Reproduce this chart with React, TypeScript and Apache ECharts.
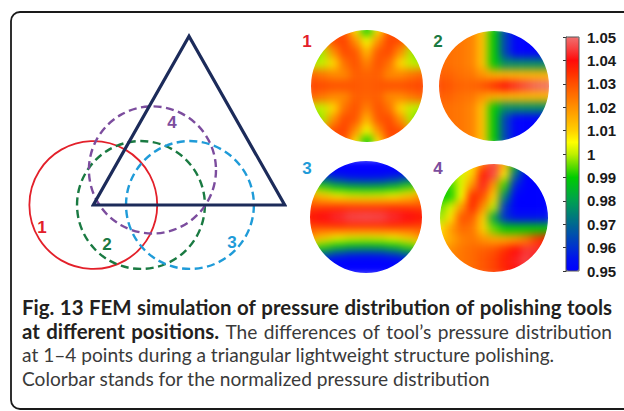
import React, { useEffect, useRef } from "react";
import * as echarts from "echarts";

// ---------- data ----------
const PRESSURE_MIN = 0.95;
const PRESSURE_MAX = 1.05;
const COLORBAR_MIN = 95; // in 0.01 units
const COLORBAR_MAX = 105;

// triangle (side = 10 units) and the four tool circles [cx, cy, r] in the same units
const TRIANGLE = [
  [0, 0],
  [10, 0],
  [5, 8.66],
];
const TOOL_CIRCLES = [
  [0, 0, 3.34],
  [2.49, 0, 3.34],
  [5.05, 0, 3.34],
  [3.09, 1.8, 3.32],
];
const TOOL_LABELS = ["1", "2", "3", "4"];

// normalized pressure maps, rows top -> bottom, columns left -> right
const DISC1 = [
  [1.019, 1.03, 1.032, 1.029, 1.008, 0.99, 1.008, 1.029, 1.032, 1.03, 1.019],
  [1.0, 1.017, 1.03, 1.032, 1.02, 1.004, 1.02, 1.032, 1.03, 1.017, 1.0],
  [0.99, 0.999, 1.02, 1.031, 1.029, 1.014, 1.029, 1.031, 1.02, 0.999, 0.99],
  [1.0, 1.0, 1.009, 1.025, 1.03, 1.022, 1.03, 1.025, 1.009, 1.0, 1.0],
  [1.027, 1.024, 1.021, 1.021, 1.028, 1.027, 1.028, 1.021, 1.021, 1.024, 1.027],
  [1.032, 1.031, 1.03, 1.03, 1.029, 1.028, 1.029, 1.03, 1.03, 1.031, 1.032],
  [1.027, 1.024, 1.021, 1.021, 1.028, 1.027, 1.028, 1.021, 1.021, 1.024, 1.027],
  [1.0, 1.0, 1.009, 1.025, 1.03, 1.022, 1.03, 1.025, 1.009, 1.0, 1.0],
  [0.99, 0.999, 1.02, 1.031, 1.029, 1.014, 1.029, 1.031, 1.02, 0.999, 0.99],
  [1.0, 1.017, 1.03, 1.032, 1.02, 1.004, 1.02, 1.032, 1.03, 1.017, 1.0],
  [1.019, 1.03, 1.032, 1.029, 1.008, 0.99, 1.008, 1.029, 1.032, 1.03, 1.019],
];
const DISC2 = [
  [1.026, 1.025, 1.024, 1.022, 1.012, 0.99, 0.964, 0.951, 0.95, 0.95, 0.95],
  [1.026, 1.025, 1.024, 1.022, 1.012, 0.99, 0.964, 0.951, 0.95, 0.95, 0.95],
  [1.026, 1.025, 1.024, 1.022, 1.012, 0.99, 0.964, 0.951, 0.95, 0.95, 0.95],
  [1.026, 1.025, 1.024, 1.022, 1.012, 0.99, 0.977, 0.977, 0.977, 0.977, 0.977],
  [1.028, 1.027, 1.025, 1.024, 1.019, 1.015, 1.014, 1.014, 1.014, 1.014, 1.014],
  [1.031, 1.029, 1.027, 1.027, 1.03, 1.035, 1.04, 1.043, 1.046, 1.049, 1.05],
  [1.028, 1.027, 1.025, 1.024, 1.019, 1.015, 1.014, 1.014, 1.014, 1.014, 1.014],
  [1.026, 1.025, 1.024, 1.022, 1.012, 0.99, 0.977, 0.977, 0.977, 0.977, 0.977],
  [1.026, 1.025, 1.024, 1.022, 1.012, 0.99, 0.964, 0.951, 0.95, 0.95, 0.95],
  [1.026, 1.025, 1.024, 1.022, 1.012, 0.99, 0.964, 0.951, 0.95, 0.95, 0.95],
  [1.026, 1.025, 1.024, 1.022, 1.012, 0.99, 0.964, 0.951, 0.95, 0.95, 0.95],
];
const DISC3 = [
  [0.95, 0.95, 0.95, 0.95, 0.95, 0.95, 0.95, 0.95, 0.95],
  [0.95, 0.95, 0.95, 0.95, 0.95, 0.95, 0.95, 0.95, 0.95],
  [0.956, 0.951, 0.95, 0.95, 0.95, 0.95, 0.95, 0.951, 0.956],
  [0.974, 0.964, 0.957, 0.954, 0.953, 0.954, 0.957, 0.964, 0.974],
  [0.99, 0.983, 0.976, 0.971, 0.97, 0.971, 0.976, 0.983, 0.99],
  [1.003, 0.995, 0.991, 0.989, 0.988, 0.989, 0.991, 0.995, 1.003],
  [1.017, 1.009, 1.004, 1.001, 1.0, 1.001, 1.004, 1.009, 1.017],
  [1.024, 1.019, 1.016, 1.015, 1.014, 1.015, 1.016, 1.019, 1.024],
  [1.028, 1.029, 1.03, 1.03, 1.03, 1.03, 1.03, 1.029, 1.028],
  [1.037, 1.039, 1.04, 1.041, 1.041, 1.041, 1.04, 1.039, 1.037],
  [1.038, 1.041, 1.045, 1.049, 1.05, 1.049, 1.045, 1.041, 1.038],
  [1.037, 1.039, 1.04, 1.041, 1.041, 1.041, 1.04, 1.039, 1.037],
  [1.028, 1.029, 1.03, 1.03, 1.03, 1.03, 1.03, 1.029, 1.028],
  [1.024, 1.019, 1.016, 1.015, 1.014, 1.015, 1.016, 1.019, 1.024],
  [1.017, 1.009, 1.004, 1.001, 1.0, 1.001, 1.004, 1.009, 1.017],
  [1.003, 0.995, 0.991, 0.989, 0.988, 0.989, 0.991, 0.995, 1.003],
  [0.99, 0.983, 0.976, 0.971, 0.97, 0.971, 0.976, 0.983, 0.99],
  [0.974, 0.964, 0.957, 0.954, 0.953, 0.954, 0.957, 0.964, 0.974],
  [0.956, 0.951, 0.95, 0.95, 0.95, 0.95, 0.95, 0.951, 0.956],
  [0.95, 0.95, 0.95, 0.95, 0.95, 0.95, 0.95, 0.95, 0.95],
  [0.95, 0.95, 0.95, 0.95, 0.95, 0.95, 0.95, 0.95, 0.95],
];
const DISC4 = [
  [0.995, 1.0, 1.003, 1.008, 1.025, 1.045, 1.015, 0.987, 0.956, 0.95, 0.95],
  [0.995, 0.997, 1.002, 1.01, 1.038, 1.046, 1.007, 0.971, 0.95, 0.95, 0.95],
  [0.993, 0.993, 1.003, 1.02, 1.042, 1.018, 0.993, 0.958, 0.95, 0.95, 0.95],
  [0.99, 0.991, 1.005, 1.036, 1.03, 1.01, 0.976, 0.951, 0.95, 0.95, 0.95],
  [0.995, 1.002, 1.018, 1.036, 1.02, 1.0, 0.962, 0.95, 0.95, 0.95, 0.95],
  [0.998, 1.008, 1.03, 1.028, 1.01, 0.982, 0.96, 0.955, 0.955, 0.955, 0.955],
  [1.008, 1.018, 1.026, 1.024, 1.01, 0.995, 0.99, 0.99, 0.99, 0.99, 0.99],
  [1.012, 1.016, 1.022, 1.024, 1.02, 1.017, 1.017, 1.019, 1.024, 1.033, 1.038],
  [1.017, 1.021, 1.024, 1.026, 1.028, 1.03, 1.035, 1.04, 1.044, 1.044, 1.04],
  [1.02, 1.022, 1.024, 1.026, 1.029, 1.032, 1.037, 1.042, 1.046, 1.04, 1.035],
  [1.02, 1.022, 1.024, 1.026, 1.029, 1.032, 1.036, 1.04, 1.042, 1.04, 1.035],
];
const DISC_LABELS = ["1", "2", "3", "4"];

const CAPTION_BOLD_1 = "Fig. 13 FEM simulation of pressure distribution of polishing tools";
const CAPTION_BOLD_2 = "at different positions.";
const CAPTION_REG_2 = "The differences of tool\u2019s pressure distribution";
const CAPTION_REG_3 = "at 1\u20134 points during a triangular lightweight structure polishing.";
const CAPTION_REG_4 = "Colorbar stands for the normalized pressure distribution";

// ---------- layout & style ----------
const JET = [
  "#0000ff", "#0010f0", "#0030d0", "#004cb0", "#006890", "#008470", "#00a050",
  "#00b628", "#00cc00", "#60dc00", "#c0f000", "#ffff00", "#ffd000", "#ffb000",
  "#ff9000", "#ff7000", "#ff5000", "#ff2c00", "#ff0a0a", "#f84040", "#f07070",
];
const TOOL_COLORS = ["#e3202a", "#1a7a42", "#1f9bd8", "#7c4d9e"];
const DISC_POS = [
  [367, 86, 56],
  [494, 86, 55],
  [366, 217, 56],
  [494, 218, 54],
];
const DISCS = [DISC1, DISC2, DISC3, DISC4];
const TOOL_LABEL_POS = [
  [42, 227],
  [107, 244],
  [232, 242],
  [172, 122],
];
const DISC_LABEL_POS = [
  [307, 41],
  [438, 41],
  [307, 168],
  [438, 168],
];
const TRI_GRID = { left: 93.3, top: 36.3, width: 191.4, height: 168.7 };
const BAR = { left: 566, top: 37, width: 13, height: 234 };
const FAM = "Lato";

let _ctx: CanvasRenderingContext2D | null = null;
function measure(text: string, bold: boolean, size: number) {
  if (!_ctx) _ctx = document.createElement("canvas").getContext("2d");
  if (!_ctx) return text.length * size * 0.5;
  _ctx.font = `${bold ? "bold" : "normal"} ${size}px ${FAM}`;
  return _ctx.measureText(text).width;
}
function fitSize(text: string, bold: boolean, target: number) {
  const w = measure(text, bold, 20);
  return w > 0 ? (20 * target) / w : 16;
}

function heatOption(): any {
  const grids: any[] = [];
  const xAxes: any[] = [];
  const yAxes: any[] = [];
  const series: any[] = [];
  DISCS.forEach((d, i) => {
    const [cx, cy, r] = DISC_POS[i];
    const nr = d.length;
    const nc = d[0].length;
    const w = (2 + 2 / (nc - 1)) * r;
    const h = (2 + 2 / (nr - 1)) * r;
    grids.push({ left: cx - w / 2, top: cy - h / 2, width: w, height: h });
    xAxes.push({ type: "category", gridIndex: i, show: false, data: d[0].map((_, j) => j) });
    yAxes.push({ type: "category", gridIndex: i, show: false, data: d.map((_, k) => k) });
    const data: number[][] = [];
    d.forEach((row, ri) => row.forEach((v, ci) => data.push([ci, nr - 1 - ri, v])));
    series.push({
      type: "heatmap",
      xAxisIndex: i,
      yAxisIndex: i,
      data,
      itemStyle: { borderWidth: 0 },
    });
  });
  return {
    animation: false,
    grid: grids,
    xAxis: xAxes,
    yAxis: yAxes,
    visualMap: {
      type: "continuous",
      show: false,
      min: PRESSURE_MIN,
      max: PRESSURE_MAX,
      inRange: { color: JET },
    },
    series,
  };
}

function mainOption(): any {
  const capX = 22;
  const capR = 612;
  const lineY = [307, 331, 354, 378];
  const boldSize = fitSize(CAPTION_BOLD_1, true, 586);
  const regSize = fitSize(CAPTION_REG_4, false, 469);

  const graphic: any[] = [
    {
      type: "rect",
      shape: { x: 11, y: 12, width: 700, height: 397, r: 9 },
      style: { fill: "none", stroke: "#1a1a1a", lineWidth: 1.8 },
      z: 1,
    },
    {
      type: "rect",
      shape: { x: BAR.left, y: BAR.top, width: BAR.width, height: BAR.height },
      style: { fill: "none", stroke: "#555", lineWidth: 1 },
      z: 100,
    },
  ];
  const label = (t: string, p: number[], color: string) => ({
    type: "text",
    x: p[0],
    y: p[1],
    style: {
      text: t,
      fill: color,
      fontSize: 17,
      fontWeight: "bold",
      fontFamily: "Liberation Sans",
      align: "center",
      verticalAlign: "middle",
    },
    z: 50,
  });
  TOOL_LABELS.forEach((t, i) => graphic.push(label(t, TOOL_LABEL_POS[i], TOOL_COLORS[i])));
  DISC_LABELS.forEach((t, i) => graphic.push(label(t, DISC_LABEL_POS[i], TOOL_COLORS[i])));

  const word = (text: string, x: number, y: number, bold: boolean) => ({
    type: "text",
    x,
    y,
    style: {
      text,
      fill: bold ? "#231f20" : "#3a3a3a",
      fontSize: bold ? boldSize : regSize,
      fontWeight: bold ? "bold" : "normal",
      fontFamily: FAM,
      align: "left",
      verticalAlign: "middle",
    },
    z: 50,
  });
  const widthOf = (t: string, bold: boolean) => measure(t, bold, bold ? boldSize : regSize);
  // justified line: words spread between x0 and x1
  const justify = (parts: { t: string; bold: boolean }[], x0: number, x1: number, y: number) => {
    const ws = parts.map((p) => widthOf(p.t, p.bold));
    const total = ws.reduce((a, b) => a + b, 0);
    const minGap = widthOf(" ", false);
    const gap = Math.max(minGap, (x1 - x0 - total) / (parts.length - 1));
    let x = x0;
    parts.forEach((p, i) => {
      graphic.push(word(p.t, x, y, p.bold));
      x += ws[i] + gap;
    });
  };
  justify(
    CAPTION_BOLD_1.split(" ").map((t) => ({ t, bold: true })),
    capX,
    capR,
    lineY[0]
  );
  justify(
    [
      ...CAPTION_BOLD_2.split(" ").map((t) => ({ t, bold: true })),
      ...CAPTION_REG_2.split(" ").map((t) => ({ t, bold: false })),
    ],
    capX,
    capR,
    lineY[1]
  );
  graphic.push(word(CAPTION_REG_3, capX, lineY[2], false));
  graphic.push(word(CAPTION_REG_4, capX, lineY[3], false));

  const triPath = [...TRIANGLE, TRIANGLE[0], TRIANGLE[1]];

  return {
    animation: false,
    grid: [
      { ...TRI_GRID },
      { left: BAR.left, top: BAR.top, width: BAR.width, height: BAR.height },
    ],
    xAxis: [
      { type: "value", gridIndex: 0, min: 0, max: 10, show: false },
      { type: "value", gridIndex: 1, min: 0, max: 1, show: false },
    ],
    yAxis: [
      { type: "value", gridIndex: 0, min: 0, max: 8.66, show: false },
      {
        type: "value",
        gridIndex: 1,
        min: COLORBAR_MIN,
        max: COLORBAR_MAX,
        interval: 1,
        position: "right",
        axisLine: { show: true, lineStyle: { color: "#555", width: 1 } },
        axisTick: { show: true, inside: true, length: 3, lineStyle: { color: "#333" } },
        splitLine: { show: false },
        axisLabel: {
          margin: 8,
          fontSize: 15,
          fontWeight: "bold",
          fontFamily: "Liberation Sans",
          color: "#1a1a1a",
          formatter: (v: number) => String(v / 100),
        },
      },
    ],
    visualMap: {
      type: "continuous",
      seriesIndex: [],
      min: PRESSURE_MIN,
      max: PRESSURE_MAX,
      left: BAR.left,
      top: BAR.top,
      itemWidth: BAR.width,
      itemHeight: BAR.height,
      padding: 0,
      calculable: false,
      inRange: { color: JET },
    },
    series: [
      {
        type: "custom",
        coordinateSystem: "cartesian2d",
        xAxisIndex: 0,
        yAxisIndex: 0,
        clip: false,
        silent: true,
        data: TOOL_CIRCLES,
        renderItem: (params: any, api: any) => {
          const i = params.dataIndex;
          const c = api.coord([api.value(0), api.value(1)]);
          const r = api.size([api.value(2), 0])[0];
          return {
            type: "circle",
            shape: { cx: c[0], cy: c[1], r },
            style: {
              fill: "none",
              stroke: TOOL_COLORS[i],
              lineWidth: i === 0 ? 1.8 : 2.4,
              lineDash: i === 0 ? null : [8, 4.5],
            },
          };
        },
      },
      {
        type: "line",
        xAxisIndex: 0,
        yAxisIndex: 0,
        data: triPath,
        symbol: "none",
        silent: true,
        clip: false,
        lineStyle: { color: "#1c2b5a", width: 3.2, join: "miter" },
        z: 5,
      },
    ],
    graphic,
  };
}

const CLIP_D = DISC_POS.map(
  ([cx, cy, r]) =>
    `M${cx - r},${cy} A${r},${r} 0 1 0 ${cx + r},${cy} A${r},${r} 0 1 0 ${cx - r},${cy} Z`
).join(" ");

export default function App() {
  const heatRef = useRef<HTMLDivElement>(null);
  const mainRef = useRef<HTMLDivElement>(null);
  useEffect(() => {
    const heat = echarts.init(heatRef.current!, null, { renderer: "svg" });
    heat.setOption(heatOption());
    const main = echarts.init(mainRef.current!, null, { renderer: "svg" });
    main.setOption(mainOption());
    return () => {
      heat.dispose();
      main.dispose();
    };
  }, []);
  return (
    <div
      style={{
        position: "fixed",
        left: 0,
        top: 0,
        width: 624,
        height: 411,
        background: "#fff",
        overflow: "hidden",
      }}
    >
      <div
        ref={heatRef}
        style={{
          position: "absolute",
          left: 0,
          top: 0,
          width: 624,
          height: 411,
          filter: "blur(4.5px)",
          clipPath: `path('${CLIP_D}')`,
        }}
      />
      <div
        ref={mainRef}
        style={{ position: "absolute", left: 0, top: 0, width: 624, height: 411 }}
      />
    </div>
  );
}
